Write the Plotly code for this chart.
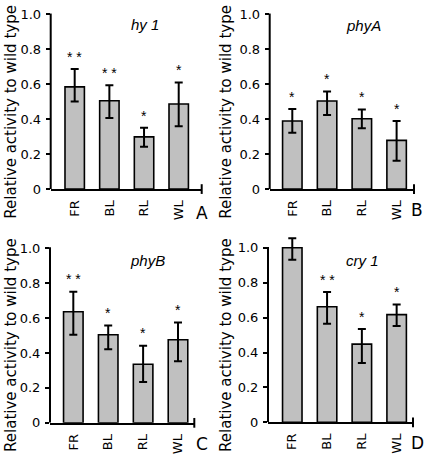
import plotly.graph_objects as go

categories = ["FR", "BL", "RL", "WL"]

# panel A: hy 1
a_values = [0.585, 0.506, 0.299, 0.487]
a_err_plus = [0.103, 0.089, 0.052, 0.123]
a_err_minus = [0.083, 0.099, 0.056, 0.128]
a_stars = ["* *", "* *", "*", "*"]

# panel B: phyA
b_values = [0.390, 0.504, 0.403, 0.279]
b_err_plus = [0.069, 0.055, 0.052, 0.111]
b_err_minus = [0.067, 0.080, 0.055, 0.117]
b_stars = ["*", "*", "*", "*"]

# panel C: phyB
c_values = [0.636, 0.504, 0.335, 0.476]
c_err_plus = [0.115, 0.054, 0.107, 0.098]
c_err_minus = [0.132, 0.082, 0.101, 0.123]
c_stars = ["* *", "*", "*", "*"]

# panel D: cry 1
d_values = [1.000, 0.662, 0.448, 0.617]
d_err_plus = [0.054, 0.085, 0.087, 0.058]
d_err_minus = [0.069, 0.097, 0.108, 0.065]
d_stars = ["", "* *", "*", "*"]

y_tick_vals = [0, 0.2, 0.4, 0.6, 0.8, 1.0]
y_tick_text = ["0", "0.2", "0.4", "0.6", "0.8", "1.0"]

subtitles = ["hy 1", "phyA", "phyB", "cry 1"]
letters = ["A", "B", "C", "D"]
y_title = "Relative activity to wild type"

W, H = 425, 462
def px(x):
    return x / W
def py(y):
    return 1 - y / H

panels = [
    dict(v=a_values, ep=a_err_plus, em=a_err_minus, st=a_stars, ext=0.02,
         xd=[px(50.7), px(201.7)], y0=190, y1=10.7, xr=[-0.692, 3.663],
         sub=(145, 21.5), let=(202, 215), yt=(11, 110.5)),
    dict(v=b_values, ep=b_err_plus, em=b_err_minus, st=b_stars, ext=0.02,
         xd=[px(269.7), px(414)], y0=190, y1=10.7, xr=[-0.65, 3.50],
         sub=(363.7, 22), let=(417, 211.5), yt=(226, 110.5)),
    dict(v=c_values, ep=c_err_plus, em=c_err_minus, st=c_stars, ext=0.07,
         xd=[px(50), px(194.3)], y0=430, y1=250.7, xr=[-0.668, 3.467],
         sub=(147, 263), let=(201.5, 451.5), yt=(11, 350)),
    dict(v=d_values, ep=d_err_plus, em=d_err_minus, st=d_stars, ext=0.07,
         xd=[px(268), px(413)], y0=429.5, y1=250.3, xr=[-0.698, 3.47],
         sub=(362, 263), let=(417, 451), yt=(226, 350)),
]

FONT = "DejaVu Sans"
fig = go.Figure()
annotations = []
shapes = []
layout = dict(width=W, height=H, autosize=False, margin=dict(l=0, r=0, t=0, b=0),
              paper_bgcolor="white", plot_bgcolor="white", showlegend=False)

for i, p in enumerate(panels):
    n = i + 1
    xa = "x" if n == 1 else f"x{n}"
    ya = "y" if n == 1 else f"y{n}"
    ext = p["ext"]
    unit = (p["y0"] - p["y1"])  # px per 1.0
    ytop_px = p["y1"] - ext * unit
    ydom = [py(p["y0"]), min(1.0, py(ytop_px))]
    fig.add_trace(go.Bar(
        x=categories, y=p["v"], xaxis=xa, yaxis=ya,
        marker=dict(color="#c0c0c0", line=dict(color="black", width=1.6)),
        width=0.56,
        error_y=dict(type="data", symmetric=False, array=p["ep"], arrayminus=p["em"],
                     color="black", thickness=2, width=4),
    ))
    xkey = "xaxis" if n == 1 else f"xaxis{n}"
    ykey = "yaxis" if n == 1 else f"yaxis{n}"
    layout[xkey] = dict(domain=p["xd"], anchor=ya, range=p["xr"], type="category",
                        showline=True, linecolor="black", linewidth=2, ticks="",
                        tickangle=-90, tickfont=dict(family=FONT, size=13, color="black"),
                        showgrid=False, zeroline=False, ticklabelstandoff=4)
    layout[ykey] = dict(domain=ydom, anchor=xa, range=[0, 1.0 + ext],
                        tickvals=y_tick_vals, ticktext=y_tick_text,
                        showline=False,
                        ticks="outside", ticklen=4, tickwidth=2, tickcolor="black",
                        tickfont=dict(family=FONT, size=13, color="black"),
                        showgrid=False, zeroline=False, ticklabelstandoff=2)
    # inner half of crossing ticks
    oy = 4 + n
    layout[f"yaxis{oy}"] = dict(overlaying=ya, anchor=xa, range=[0, 1.0 + ext], side="left",
                                tickvals=y_tick_vals, showticklabels=False,
                                ticks="inside", ticklen=4, tickwidth=2, tickcolor="black",
                                showline=False, showgrid=False, zeroline=False)
    # y axis line from 0 to 1.0
    shapes.append(dict(type="line", xref=f"{xa} domain", yref=ya,
                       x0=0, x1=0, y0=0, y1=1.005,
                       line=dict(color="black", width=2)))
    # end tick on x axis
    shapes.append(dict(type="line", xref=f"{xa} domain", yref="paper",
                       x0=1, x1=1, y0=ydom[0] - 5 / H, y1=ydom[0] + 5 / H,
                       line=dict(color="black", width=2)))
    # significance stars
    for c, val, ep, s in zip(categories, p["v"], p["ep"], p["st"]):
        if s:
            annotations.append(dict(x=c, y=val + ep + 0.07, xref=xa, yref=ya, text=s,
                                    showarrow=False, xanchor="center", yanchor="middle",
                                    font=dict(family="Liberation Sans", size=14, color="black")))
    annotations.append(dict(x=px(p["sub"][0]), y=py(p["sub"][1]), xref="paper", yref="paper",
                            text=f"<i>{subtitles[i]}</i>", showarrow=False,
                            xanchor="center", yanchor="middle",
                            font=dict(family="Liberation Sans", size=15, color="black")))
    annotations.append(dict(x=px(p["let"][0]), y=py(p["let"][1]), xref="paper", yref="paper",
                            text=letters[i], showarrow=False,
                            xanchor="center", yanchor="middle",
                            font=dict(family=FONT, size=17, color="black")))
    annotations.append(dict(x=px(p["yt"][0]), y=py(p["yt"][1]), xref="paper", yref="paper",
                            text=y_title, showarrow=False, textangle=-90,
                            xanchor="center", yanchor="middle",
                            font=dict(family=FONT, size=15, color="black")))

layout["annotations"] = annotations
layout["shapes"] = shapes
fig.update_layout(**layout)
fig.write_html("out.html", config={"displayModeBar": False},
               post_script="document.body.style.margin='0';")
